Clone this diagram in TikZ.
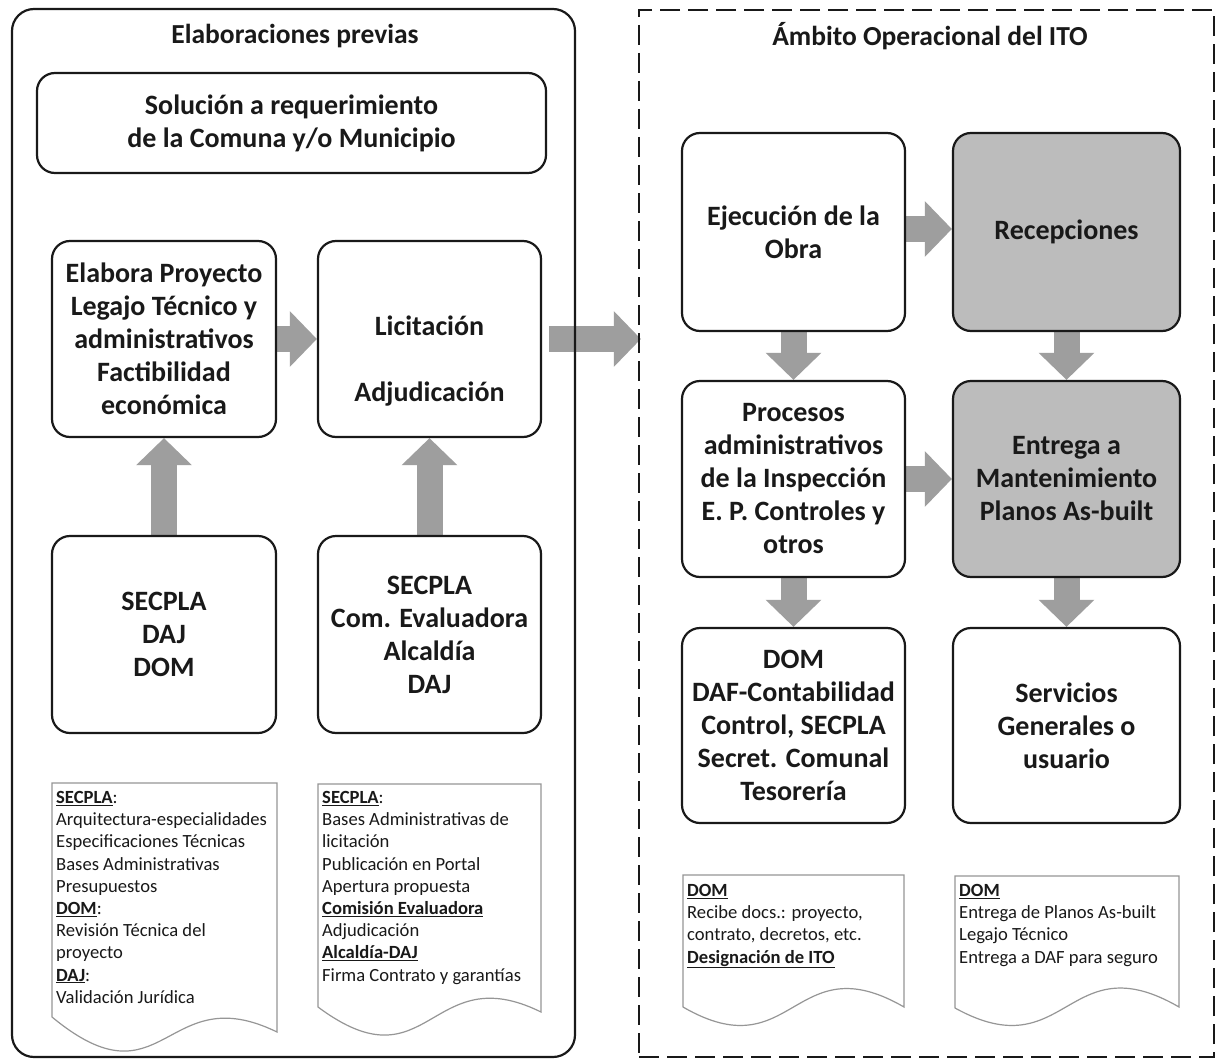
\documentclass[tikz,border=0pt]{standalone}
\usepackage{fontspec}
\setmainfont{Carlito}
\usetikzlibrary{arrows.meta,backgrounds}
\definecolor{ink}{RGB}{25,25,25}
\definecolor{boxgray}{RGB}{188,188,188}
\definecolor{arrowgray}{RGB}{158,158,158}
\definecolor{docline}{RGB}{150,150,150}
\newcommand\hdr[1]{\underline{\textbf{#1}}}
\begin{document}
\begin{tikzpicture}[x=1pt,y=-1pt,
  stage/.style={draw=ink, line width=2.2pt, rounded corners=18pt, fill=white,
    align=center, text=ink, inner sep=0pt,
    font=\fontsize{28}{33}\selectfont\bfseries},
  shaded/.style={stage, fill=boxgray},
  frame/.style={draw=ink, line width=2.2pt, inner sep=0pt},
  heading/.style={text=ink, inner sep=0pt, font=\fontsize{27.5}{30}\selectfont\bfseries},
  doctext/.style={align=left, text=ink, inner sep=0pt,
    font=\fontsize{18.6}{22.2}\selectfont},
  docshape/.style={draw=docline, line width=1.2pt, fill=white},
  flow/.style={arrowgray, line width=26pt, -{Triangle[length=27pt,width=54pt]}}]

\useasboundingbox (0,0) rectangle (1218,1062);

% outer frames
\node[frame, rounded corners=22pt, minimum width=563pt, minimum height=1048pt] (prev) at (293.5,533) {};
\node[frame, dash pattern=on 20pt off 8pt, minimum width=575pt, minimum height=1047pt] (ito) at (926.5,533.5) {};

\node[heading] (prevtitle) at (295,36) {Elaboraciones previas};
\node[heading] (itotitle) at (930,36) {Ámbito Operacional del ITO};

% left column
\node[stage, minimum width=509pt, minimum height=100pt] (sol) at (291.5,123)
  {Solución a requerimiento\\de la Comuna y/o Municipio};
\node[stage, minimum width=224pt, minimum height=196pt] (proy) at (164,339)
  {Elabora Proyecto\\Legajo Técnico y\\administrativos\\Factibilidad\\económica};
\node[stage, minimum width=223pt, minimum height=196pt] (lic) at (429.5,339)
  {\mbox{}\\[31pt]Licitación\\[33pt]Adjudicación};
\node[stage, minimum width=224pt, minimum height=197pt] (orgA) at (164,634.5)
  {SECPLA\\DAJ\\DOM};
\node[stage, minimum width=223pt, minimum height=197pt] (orgB) at (429.5,634.5)
  {SECPLA\\Com. Evaluadora\\Alcaldía\\DAJ};

% right column
\node[stage, minimum width=223pt, minimum height=198pt] (eje) at (793.5,232)
  {Ejecución de la\\Obra};
\node[shaded, minimum width=227pt, minimum height=198pt] (rec) at (1066.5,232)
  {Recepciones};
\node[stage, minimum width=223pt, minimum height=196pt] (proc) at (793.5,479)
  {Procesos\\administrativos\\de la Inspección\\E. P. Controles y\\otros};
\node[shaded, minimum width=227pt, minimum height=196pt] (ent) at (1066.5,479)
  {Entrega a\\Mantenimiento\\Planos As-built};
\node[stage, minimum width=223pt, minimum height=195pt] (dom) at (793.5,725.5)
  {DOM\\DAF-Contabilidad\\Control, SECPLA\\Secret. Comunal\\Tesorería};
\node[stage, minimum width=227pt, minimum height=195pt] (serv) at (1066.5,725.5)
  {Servicios\\Generales o\\usuario};

% document sheets with a wavy lower edge
\draw[docshape] (52,1017) -- (52,783) -- (277,783) -- (277,1032)
  .. controls (164.5,977) and (164.5,1110) .. (52,1017);
\draw[docshape] (318,1007) -- (318,784) -- (541,784) -- (541,1012)
  .. controls (429.5,957) and (429.5,1090) .. (318,1007);
\draw[docshape] (683,1007) -- (683,875) -- (904,875) -- (904,1007)
  .. controls (793.5,943) and (793.5,1071) .. (683,1007);
\draw[docshape] (955,1008) -- (955,876) -- (1179,876) -- (1179,1007)
  .. controls (1067,942) and (1067,1070) .. (955,1008);

\node[doctext, anchor=north west] (noteA) at (56,791)
  {\hdr{SECPLA}:\\Arquitectura-especialidades\\Especificaciones Técnicas\\Bases Administrativas\\Presupuestos\\\hdr{DOM}:\\Revisión Técnica del\\proyecto\\\hdr{DAJ}:\\Validación Jurídica};
\node[doctext, anchor=north west] (noteB) at (322,791)
  {\hdr{SECPLA}:\\Bases Administrativas de\\licitación\\Publicación en Portal\\Apertura propuesta\\\hdr{Comisión Evaluadora}\\Adjudicación\\\hdr{Alcaldía-DAJ}\\Firma Contrato y garantías};
\node[doctext, anchor=north west] (noteC) at (687,884)
  {\hdr{DOM}\\Recibe docs.: proyecto,\\contrato, decretos, etc.\\\hdr{Designación de ITO}};
\node[doctext, anchor=north west] (noteD) at (959,884)
  {\hdr{DOM}\\Entrega de Planos As-built\\Legajo Técnico\\Entrega a DAF para seguro};

% block arrows, kept under the frame lines
\begin{pgfonlayer}{background}
\fill[white] (0,0) rectangle (1218,1062);
\draw[flow] (proy.east) -- (lic.west);
\draw[flow] ([xshift=7pt]lic.east) -- ([xshift=3pt]ito.west |- lic.east);
\draw[flow] (orgA.north) -- (proy.south);
\draw[flow] (orgB.north) -- (lic.south);
\draw[flow] ([yshift=3pt]eje.east) -- ([yshift=3pt]rec.west);
\draw[flow] (eje.south) -- (eje.south |- proc.north);
\draw[flow] (rec.south) -- (rec.south |- ent.north);
\draw[flow] (proc.east) -- (ent.west);
\draw[flow] (proc.south) -- (proc.south |- dom.north);
\draw[flow] (ent.south) -- (ent.south |- serv.north);
\end{pgfonlayer}
\end{tikzpicture}
\end{document}
